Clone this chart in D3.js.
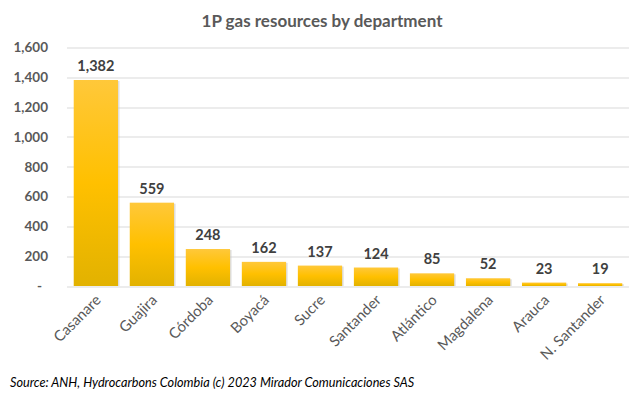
<!DOCTYPE html>
<html>
<head>
<meta charset="utf-8">
<script src="https://cdn.jsdelivr.net/npm/d3@7"></script>
<style>
  body { margin: 0; background: #fff; }
  text { font-family: Lato, "Open Sans", sans-serif; }
</style>
</head>
<body>
<div id="chart"></div>
<script>
// 1P gas resources by department

var departments = ['Casanare', 'Guajira', 'Córdoba', 'Boyacá', 'Sucre',
    'Santander', 'Atlántico', 'Magdalena', 'Arauca', 'N. Santander'];
var resources = [1382, 559, 248, 162, 137, 124, 85, 52, 23, 19];
var yTicks = [0, 200, 400, 600, 800, 1000, 1200, 1400, 1600];

var width = 643, height = 397;
var margin = { top: 47.5, right: 14, bottom: 111, left: 67 };
var innerW = width - margin.left - margin.right;
var innerH = height - margin.top - margin.bottom;

var svg = d3.select('#chart')
    .append('svg')
    .attr('width', width)
    .attr('height', height);

var defs = svg.append('defs');
var grad = defs.append('linearGradient')
    .attr('id', 'barGrad')
    .attr('x1', 0).attr('y1', 0).attr('x2', 0).attr('y2', 1);
grad.append('stop').attr('offset', '0%').attr('stop-color', '#ffc83a');
grad.append('stop').attr('offset', '50%').attr('stop-color', '#ffc000');
grad.append('stop').attr('offset', '100%').attr('stop-color', '#e2b200');

var g = svg.append('g')
    .attr('transform', 'translate(' + margin.left + ',' + margin.top + ')');

var x = d3.scaleBand()
    .domain(departments)
    .range([0, innerW])
    .paddingInner(0.21)
    .paddingOuter(0.12);

var y = d3.scaleLinear()
    .domain([0, 1600])
    .range([innerH, 0]);

// gridlines
g.selectAll('.grid')
    .data(yTicks)
    .enter()
    .append('line')
    .attr('class', 'grid')
    .attr('x1', 0)
    .attr('x2', innerW)
    .attr('y1', function(d) { return Math.round(y(d)) + 0.5; })
    .attr('y2', function(d) { return Math.round(y(d)) + 0.5; })
    .attr('stroke', '#d9d9d9')
    .attr('stroke-width', 1);

// y axis labels
var yAxis = d3.axisLeft(y)
    .tickValues(yTicks)
    .tickSize(0)
    .tickPadding(19)
    .tickFormat(function(d) { return d === 0 ? '-' : d3.format(',')(d); });

g.append('g')
    .attr('class', 'y axis')
    .call(yAxis)
    .call(function(sel) {
        sel.select('.domain').remove();
        sel.selectAll('text')
            .attr('fill', '#595959')
            .style('font-size', '13.5px')
            .style('font-weight', 'bold');
        sel.selectAll('text')
            .filter(function(d) { return d === 0; })
            .attr('dx', -6);
    });

// bar shadows
g.selectAll('.shadow')
    .data(resources)
    .enter()
    .append('rect')
    .attr('class', 'shadow')
    .attr('x', function(d, i) { return x(departments[i]) + 1.5; })
    .attr('y', function(d) { return y(d) + 1; })
    .attr('width', x.bandwidth())
    .attr('height', function(d) { return innerH - y(d) - 1; })
    .attr('fill', '#c8c8c8')
    .attr('opacity', 0.6);

// bars
g.selectAll('.bar')
    .data(resources)
    .enter()
    .append('rect')
    .attr('class', 'bar')
    .attr('x', function(d, i) { return x(departments[i]); })
    .attr('y', function(d) { return y(d); })
    .attr('width', x.bandwidth())
    .attr('height', function(d) { return innerH - y(d); })
    .attr('fill', 'url(#barGrad)');

// data labels
g.selectAll('.value')
    .data(resources)
    .enter()
    .append('text')
    .attr('class', 'value')
    .attr('x', function(d, i) { return x(departments[i]) + x.bandwidth() / 2; })
    .attr('y', function(d) { return y(d) - 9; })
    .attr('text-anchor', 'middle')
    .attr('fill', '#404040')
    .style('font-size', '14.5px')
    .style('font-weight', 'bold')
    .text(function(d) { return d3.format(',')(d); });

// x axis category labels
var xAxis = d3.axisBottom(x).tickSize(0).tickPadding(0);
g.append('g')
    .attr('class', 'x axis')
    .attr('transform', 'translate(0,' + innerH + ')')
    .call(xAxis)
    .call(function(sel) {
        sel.select('.domain').remove();
        sel.selectAll('text')
            .attr('text-anchor', 'end')
            .attr('dy', 0)
            .attr('y', 0)
            .attr('transform', 'translate(6,15) rotate(-45)')
            .attr('fill', '#595959')
            .style('font-size', '14.8px');
    });

// title
svg.append('text')
    .attr('x', 322)
    .attr('y', 27)
    .attr('text-anchor', 'middle')
    .attr('fill', '#595959')
    .style('font-size', '17px')
    .style('font-weight', 'bold')
    .text('1P gas resources by department');

// source
svg.append('text')
    .attr('x', 10)
    .attr('y', 387)
    .attr('fill', '#000')
    .style('font-size', '12.7px')
    .style('font-style', 'italic')
    .text('Source:  ANH, Hydrocarbons Colombia (c) 2023 Mirador Comunicaciones SAS');
</script>
</body>
</html>
